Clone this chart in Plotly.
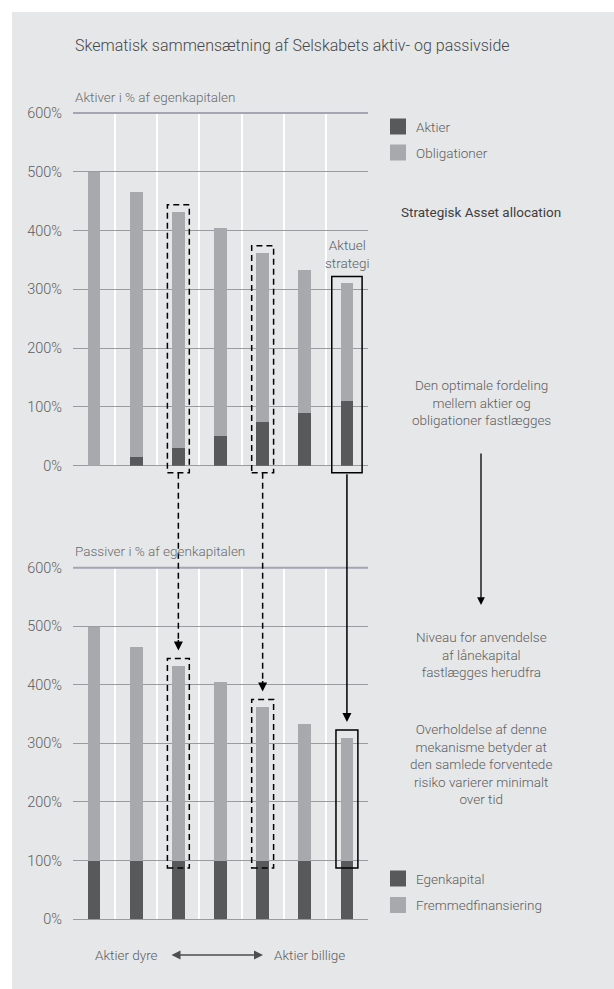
import plotly.graph_objects as go

# ---- data -------------------------------------------------------------
categories = [0, 1, 2, 3, 4, 5, 6]
total_pct = [500, 465, 432, 405, 362, 333, 310]      # samlede aktiver = passiver
aktier_pct = [0, 15, 30, 50, 75, 90, 110]
egenkapital_pct = [100, 100, 100, 100, 100, 100, 100]
y_ticks = [0, 100, 200, 300, 400, 500, 600]
y_tick_text = ["0%", "100%", "200%", "300%", "400%", "500%", "600%"]
dashed_cols = [2, 4]
current_col = 6

obligationer_pct = [t - a for t, a in zip(total_pct, aktier_pct)]
fremmed_pct = [t - e for t, e in zip(total_pct, egenkapital_pct)]

# ---- styling ----------------------------------------------------------
FONT = "Roboto, sans-serif"
WEIGHT = 300
BODY = 13.5
DARK = "#58595b"
LIGHT = "#a7a9ac"
BG = "#e6e7e8"
TXT = "#5d5e60"
GRID = "#9a9b9e"

W, H = 614, 989
PL, PR, PT, PB = 73, 368, 113, 919
N = len(categories)


def px_x(p):
    return (p - PL) / (PR - PL)


def px_y(p):
    return (PB - p) / (PB - PT)


top_dom = [px_y(465.7), 1.0]
bot_dom = [0.0, px_y(567.7)]


def v2p(v, dom):
    return dom[0] + v / 600 * (dom[1] - dom[0])


def c2p(c):
    return (c + 0.5) / N


PX = 1 / (PB - PT)  # one pixel in paper-y units

fig = go.Figure()
bar_style = dict(width=0.3, marker_line_width=0, showlegend=False)
fig.add_bar(x=categories, y=aktier_pct, marker_color=DARK,
            xaxis="x", yaxis="y", name="Aktier", **bar_style)
fig.add_bar(x=categories, y=obligationer_pct, marker_color=LIGHT,
            xaxis="x", yaxis="y", name="Obligationer", **bar_style)
fig.add_bar(x=categories, y=egenkapital_pct, marker_color=DARK,
            xaxis="x2", yaxis="y2", name="Egenkapital", **bar_style)
fig.add_bar(x=categories, y=fremmed_pct, marker_color=LIGHT,
            xaxis="x2", yaxis="y2", name="Fremmedfinansiering", **bar_style)

xgrid = [c - 0.5 for c in categories] + [N - 0.5]
xax = dict(range=[-0.5, N - 0.5], tickvals=xgrid, showticklabels=False,
           showgrid=True, gridcolor="white", gridwidth=1.5, zeroline=False,
           ticks="", fixedrange=True)
yax = dict(range=[0, 600], tickmode="array", tickvals=y_ticks, ticktext=y_tick_text,
           showgrid=True, gridcolor=GRID, gridwidth=1, zeroline=True,
           zerolinecolor=GRID, zerolinewidth=1, ticks="", ticklabelstandoff=10,
           tickfont=dict(family=FONT, size=14.5, color=TXT, weight=WEIGHT))

shapes = []
# page background panel
shapes.append(dict(type="rect", xref="paper", yref="paper",
                   x0=px_x(12), x1=px_x(620), y0=px_y(12), y1=px_y(995),
                   fillcolor=BG, line_width=0, layer="below"))
# top (600%) rule of each panel
for dom in (top_dom, bot_dom):
    shapes.append(dict(type="line", xref="paper", yref="paper", x0=0, x1=1,
                       y0=v2p(600, dom), y1=v2p(600, dom),
                       line=dict(color="#a2a6b3", width=2)))

DASH = "6px,4px"
# dashed boxes and connectors
for c in dashed_cols:
    t = total_pct[c]
    shapes.append(dict(type="rect", xref="paper", yref="paper",
                       x0=c2p(c - 0.26), x1=c2p(c + 0.26),
                       y0=v2p(-12, top_dom), y1=v2p(t + 12, top_dom),
                       line=dict(color="black", width=1.5, dash=DASH)))
    shapes.append(dict(type="rect", xref="paper", yref="paper",
                       x0=c2p(c - 0.26), x1=c2p(c + 0.26),
                       y0=v2p(87, bot_dom), y1=v2p(t + 13, bot_dom),
                       line=dict(color="black", width=1.5, dash=DASH)))
    tip = v2p(t + 13, bot_dom) + 8 * PX
    shapes.append(dict(type="line", xref="paper", yref="paper",
                       x0=c2p(c), x1=c2p(c), y0=v2p(-12, top_dom), y1=tip + 8 * PX,
                       line=dict(color="black", width=1.5, dash=DASH)))

# solid boxes for current strategy
c = current_col
t = total_pct[c]
shapes.append(dict(type="rect", xref="paper", yref="paper",
                   x0=c2p(c - 0.36), x1=c2p(c + 0.36),
                   y0=v2p(-12, top_dom), y1=v2p(t + 12, top_dom),
                   line=dict(color="black", width=1.5)))
shapes.append(dict(type="rect", xref="paper", yref="paper",
                   x0=c2p(c - 0.26), x1=c2p(c + 0.26),
                   y0=v2p(87, bot_dom), y1=v2p(t + 13, bot_dom),
                   line=dict(color="black", width=1.5)))

# legend swatches
legend_items = [("Aktier", DARK, 126.5), ("Obligationer", LIGHT, 152.5),
                ("Egenkapital", DARK, 878.5), ("Fremmedfinansiering", LIGHT, 905)]
for label, col, yc in legend_items:
    shapes.append(dict(type="rect", xref="paper", yref="paper",
                       x0=px_x(390), x1=px_x(406), y0=px_y(yc - 8), y1=px_y(yc + 8),
                       fillcolor=col, line_width=0))

ann = []


def text(x, y, s, size=BODY, color=TXT, xanchor="center", align="center", weight=WEIGHT):
    ann.append(dict(x=px_x(x), y=px_y(y), xref="paper", yref="paper", text=s,
                    showarrow=False, xanchor=xanchor, yanchor="middle", align=align,
                    font=dict(family=FONT, size=size, color=color, weight=weight)))


text(73, 45, "Skematisk sammensætning af Selskabets aktiv- og passivside",
     size=16, color="#47484a", xanchor="left")
text(73, 97, "Aktiver i % af egenkapitalen", size=13.5, color="#6a6b6e", xanchor="left")
text(73, 551, "Passiver i % af egenkapitalen", size=13.5, color="#6a6b6e", xanchor="left")
for label, col, yc in legend_items:
    text(414, yc, label, xanchor="left")
text(481, 212, "Strategisk Asset allocation", size=13.5, color="#3e3f41", weight=400)
text(481, 403, "Den optimale fordeling<br>mellem aktier og<br>obligationer fastlægges")
text(481, 654, "Niveau for anvendelse<br>af lånekapital<br>fastlægges herudfra")
text(481, 764, "Overholdelse af denne<br>mekanisme betyder at<br>den samlede forventede"
     "<br>risiko varierer minimalt<br>over tid")
text(347, 254, "Aktuel<br>strategi")
text(160, 955, "Aktier dyre", xanchor="right")
text(272, 955, "Aktier billige", xanchor="left")

# arrowheads for the dashed connectors
for c in dashed_cols:
    tip = v2p(total_pct[c] + 13, bot_dom) + 8 * PX
    ann.append(dict(x=c2p(c), y=tip, xref="paper", yref="paper", text="",
                    showarrow=True, ax=0, ay=-12, arrowhead=2, arrowsize=1.2,
                    arrowwidth=1.5, arrowcolor="black"))
# solid connector for current strategy
c = current_col
tip = v2p(total_pct[c] + 13, bot_dom) + 8 * PX
y_start = v2p(-12, top_dom)
ann.append(dict(x=c2p(c), y=tip, xref="paper", yref="paper", text="",
                showarrow=True, axref="pixel", ax=0, ay=-(y_start - tip) / PX,
                arrowhead=2, arrowsize=1.2, arrowwidth=1.5, arrowcolor="black"))
# vertical arrow in the explanation column
ann.append(dict(x=px_x(481), y=px_y(605), xref="paper", yref="paper", text="",
                showarrow=True, ax=0, ay=-153, arrowhead=2, arrowsize=1.2,
                arrowwidth=1.3, arrowcolor="black"))
# double arrow between "Aktier dyre" and "Aktier billige"
ann.append(dict(x=px_x(263), y=px_y(955), xref="paper", yref="paper", text="",
                showarrow=True, ax=-93, ay=0, arrowhead=2, startarrowhead=2,
                arrowside="end+start", arrowsize=1.2, arrowwidth=1.5,
                arrowcolor="#4d4e50"))

fig.update_layout(
    width=W, height=H, autosize=False,
    margin=dict(l=PL, r=W - PR, t=PT, b=H - PB, pad=0),
    paper_bgcolor="white", plot_bgcolor="rgba(0,0,0,0)",
    barmode="stack", bargap=0,
    xaxis=dict(xax, domain=[0, 1], anchor="y"),
    yaxis=dict(yax, domain=top_dom, anchor="x"),
    xaxis2=dict(xax, domain=[0, 1], anchor="y2"),
    yaxis2=dict(yax, domain=bot_dom, anchor="x2"),
    shapes=shapes, annotations=ann,
    font=dict(family=FONT, color=TXT),
)

fig.write_html("out.html")
